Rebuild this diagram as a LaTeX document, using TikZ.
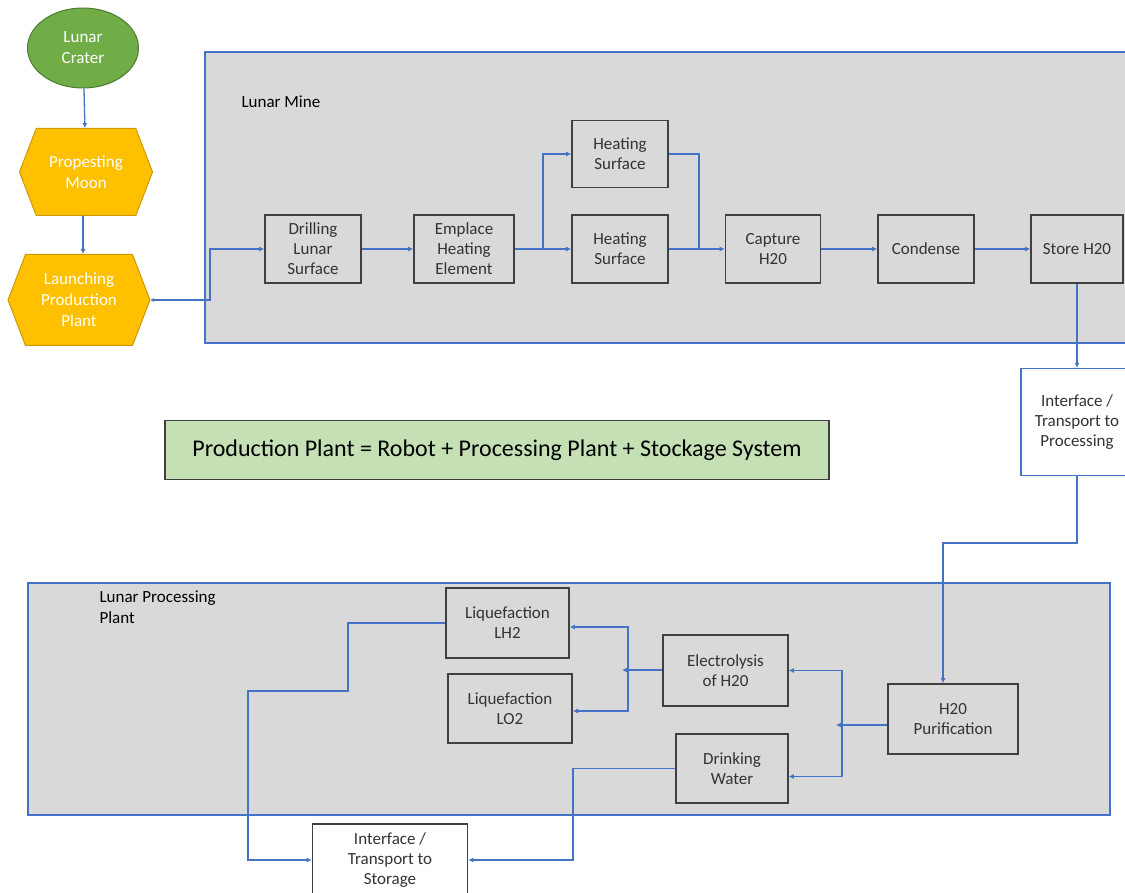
\documentclass[tikz,border=0pt]{standalone}
\usepackage{fontspec}
\setmainfont{Carlito}
\usepackage{tikz}
\usetikzlibrary{arrows.meta,positioning,shapes.geometric,shapes.symbols,calc}
\definecolor{lineblue}{HTML}{4472C4}
\definecolor{boxgray}{HTML}{D9D9D9}
\definecolor{edgegray}{HTML}{404040}
\definecolor{cratergreen}{HTML}{70AD47}
\definecolor{hexorange}{HTML}{FFC000}
\definecolor{plantgreen}{HTML}{C5E0B4}
\tikzset{
  stepbox/.style = {draw=edgegray, line width=1.6pt, fill=boxgray, align=center, inner sep=0pt,
    font=\fontsize{17}{20}\selectfont, text=black!80},
  hexnode/.style = {signal, signal to=west and east, signal pointer angle=138, draw=hexorange!80!black,
    line width=1pt, fill=hexorange, text=white, align=center, inner sep=0pt,
    font=\fontsize{17}{21}\selectfont},
  area/.style = {draw=lineblue, line width=1.4pt, fill=boxgray},
}

\begin{document}
\begin{tikzpicture}[
  x=1pt, y=-1pt,
  flow/.style={-{Latex[length=5pt,width=5pt]}, lineblue, line width=1.3pt},
  link/.style={lineblue, line width=1.3pt},
]
\useasboundingbox (0,0) rectangle (1125,893);
\clip (0,0) rectangle (1125,893);

% Areas
\filldraw[area] (205,52) rectangle (1145,343);
\filldraw[area] (28,583) rectangle (1110,815);
\node[anchor=west, font=\fontsize{17}{20}\selectfont] (minelabel) at (238,102) {Lunar Mine};
\node[anchor=west, align=left, font=\fontsize{17}{21}\selectfont] (proclabel) at (96,607) {Lunar Processing\\Plant};

% Left column
\node[ellipse, draw=cratergreen!70!black, line width=1pt, fill=cratergreen, text=white, align=center,
  minimum width=111, minimum height=80, inner sep=0pt, font=\fontsize{17}{21}\selectfont]
  (crater) at (83,48) {Lunar\\Crater};
\node[hexnode, minimum width=133, minimum height=87] (prospect) at (86,172) {Propesting\\Moon};
\node[hexnode, minimum width=142, minimum height=91] (launch) at (79,300) {Launching\\Production\\Plant};

% Lunar mine
\node[stepbox, minimum width=96, minimum height=68] (drill) at (313,249) {Drilling\\Lunar\\Surface};
\node[stepbox, minimum width=100, minimum height=68] (emplace) at (464,249) {Emplace\\Heating\\Element};
\node[stepbox, minimum width=96, minimum height=67] (heattop) at (620,154) {Heating\\Surface};
\node[stepbox, minimum width=96, minimum height=68] (heatbot) at (620,249) {Heating\\Surface};
\node[stepbox, minimum width=95, minimum height=68] (capture) at (773,249) {Capture\\H20};
\node[stepbox, minimum width=96, minimum height=68] (condense) at (926,249) {Condense};
\node[stepbox, minimum width=92, minimum height=68] (store) at (1077,249) {Store H20};
\node[stepbox, draw=lineblue, line width=1.3pt, fill=white, minimum width=112, minimum height=107]
  (interproc) at (1077,422) {Interface /\\Transport to\\Processing};

% Summary
\node[stepbox, fill=plantgreen, minimum width=664, minimum height=59, font=\fontsize{24}{28}\selectfont, text=black]
  (summary) at (497,450) {Production Plant = Robot + Processing Plant + Stockage System};

% Lunar processing plant
\node[stepbox, minimum width=123, minimum height=70] (lh2) at (507.5,623) {Liquefaction\\LH2};
\node[stepbox, minimum width=124, minimum height=69] (lo2) at (510,708.5) {Liquefaction\\LO2};
\node[stepbox, minimum width=125, minimum height=71] (elec) at (725.5,670.5) {Electrolysis\\of H20};
\node[stepbox, minimum width=112, minimum height=69] (drink) at (732,768.5) {Drinking\\Water};
\node[stepbox, minimum width=130, minimum height=70] (purif) at (953,719) {H20\\Purification};
\node[stepbox, fill=white, minimum width=155, minimum height=72] (intstore) at (390,860) {Interface /\\Transport to\\Storage};

% Junctions
\coordinate (lbend) at (210,300);
\coordinate (split) at (543,249);
\coordinate (merge) at (699,249);
\coordinate (pbend) at (943,543);
\coordinate (jpur) at (842,725);
\coordinate (jele) at (628,670);
\coordinate (s1) at (348,691);
\coordinate (s2) at (248,858);
\coordinate (s3) at (573,800);

% Arrows
\draw[flow] (crater) -- (prospect);
\draw[flow] (prospect.south -| crater) -- (launch.north -| crater);
\draw[{Latex[length=3pt,width=4pt]}-{Latex[length=5pt,width=5pt]}, lineblue, line width=1.3pt]
  (launch.east) -- (lbend) |- (drill.west);
\draw[flow] (drill) -- (emplace);
\draw[flow] (emplace) -- (heatbot);
\draw[flow] (split) |- (heattop.west);
\draw[link] (heattop.east) -| (merge);
\draw[flow] (heatbot) -- (capture);
\draw[flow] (capture) -- (condense);
\draw[flow] (condense) -- (store);
\draw[flow] (store) -- (interproc);
\draw[flow] (interproc.south) |- (pbend) -- (pbend |- purif.north);
\draw[flow] (purif.west |- jpur) -- ([xshift=-6]jpur);
\draw[flow] (jpur) |- (elec.east);
\draw[flow] (jpur) |- ([yshift=-8]drink.east);
\draw[flow] (elec.west |- jele) -- ([xshift=-6]jele);
\draw[flow] (jele) |- ([yshift=-4]lh2.east);
\draw[flow] (jele) |- ([yshift=-2.5]lo2.east);
\draw[flow] (lh2.west) -| (s1) -- (s1 -| s2) |- (intstore.west);
\draw[flow] (drink.west) -| (s3) |- (intstore.east);

\end{tikzpicture}
\end{document}
